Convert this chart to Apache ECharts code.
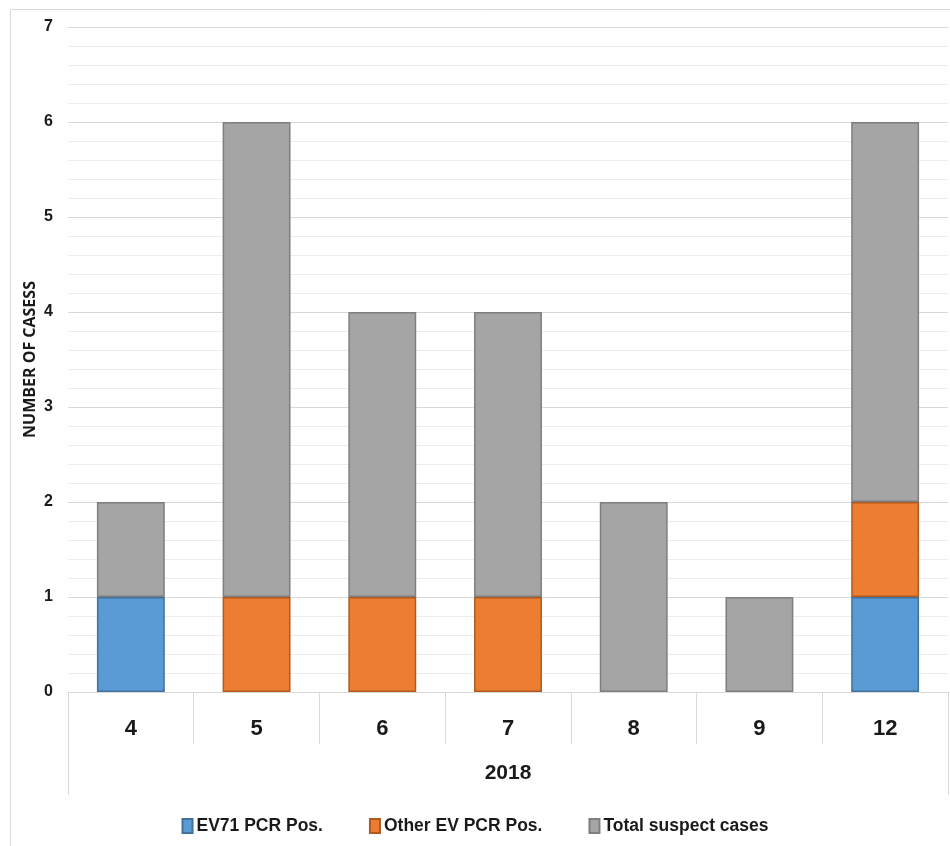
<!DOCTYPE html>
<html><head><meta charset="utf-8">
<script src="https://cdn.jsdelivr.net/npm/echarts@6/dist/echarts.min.js"></script>
<style>html,body{margin:0;padding:0;background:#fff}#c{width:950px;height:846px}</style>
</head><body><div id="c"></div>
<script>
const categories = ['4','5','6','7','8','9','12'];
const groupLabel = ['2018'];
const ev71Pos = [1,0,0,0,0,0,1];
const otherEvPos = [0,1,1,1,0,0,1];
const suspectRest = [1,5,3,3,2,1,4];
const seriesNames = ['EV71 PCR Pos.','Other EV PCR Pos.','Total suspect cases'];
const yTicks = [0,1,2,3,4,5,6,7];

const FONT = '"Liberation Sans Narrow","Liberation Sans",sans-serif';
const chart = echarts.init(document.getElementById('c'), null, {renderer:'canvas'});
const nz = a => a.map(v => v === 0 ? '-' : v);
function bar(name, data, color, border){
  return {name, type:'bar', stack:'s', data:nz(data), barWidth:'54%',
    itemStyle:{color, borderColor:border, borderWidth:1.5}};
}
chart.setOption({
  animation:false,
  graphic:[{type:'rect', shape:{x:10.5,y:9.5,width:960,height:900}, style:{fill:null, stroke:'#d9d9d9', lineWidth:1}, silent:true}],
  grid:{left:68, right:2, top:27, bottom:154},
  legend:{bottom:6, left:'center', icon:'rect', itemWidth:10, itemHeight:14, itemGap:46,
    textStyle:{fontFamily:FONT, fontWeight:'bold', fontSize:17.5, color:'#1a1a1a', padding:[0,0,0,-1]},
    data:seriesNames},
  xAxis:[
    {type:'category', data:categories, position:'bottom',
      axisLine:{lineStyle:{color:'#d9d9d9'}},
      axisTick:{show:true, length:52, lineStyle:{color:'#d9d9d9'}},
      axisLabel:{margin:26, fontFamily:FONT, fontWeight:'bold', fontSize:22, color:'#1a1a1a'}},
    {type:'category', data:groupLabel, position:'bottom',
      axisLine:{show:false},
      axisTick:{show:true, length:103, lineStyle:{color:'#d9d9d9'}},
      axisLabel:{margin:71, fontFamily:FONT, fontWeight:'bold', fontSize:21, color:'#1a1a1a'}}
  ],
  yAxis:{type:'value', min:yTicks[0], max:yTicks[yTicks.length-1], interval:1,
    name:'NUMBER OF CASESS', nameLocation:'middle', nameGap:30, nameRotate:90, nameMoveOverlap:false,
    nameTextStyle:{fontFamily:'"Open Sans","Liberation Sans",sans-serif', fontWeight:'bold', fontSize:16, color:'#1a1a1a'},
    axisLine:{show:false}, axisTick:{show:false},
    axisLabel:{margin:15, fontFamily:FONT, fontWeight:'bold', fontSize:16, color:'#1a1a1a'},
    splitLine:{lineStyle:{color:'#d9d9d9', width:1}},
    minorTick:{show:false, splitNumber:5},
    minorSplitLine:{show:true, lineStyle:{color:'#ececec', width:1}}},
  series:[
    bar(seriesNames[0], ev71Pos, '#5b9bd5', '#41719c'),
    bar(seriesNames[1], otherEvPos, '#ed7d31', '#ae5a21'),
    bar(seriesNames[2], suspectRest, '#a5a5a5', '#7f7f7f')
  ]
});
</script></body></html>
